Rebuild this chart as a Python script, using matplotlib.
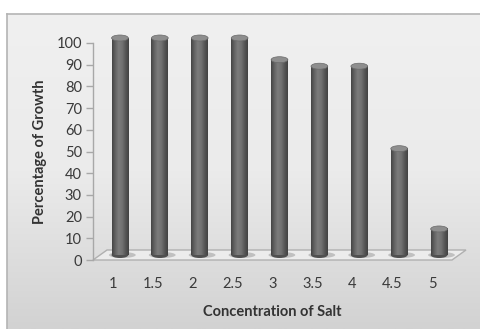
import numpy as np
import matplotlib
matplotlib.use("Agg")
import matplotlib.pyplot as plt
from matplotlib.patches import Ellipse, Polygon
from matplotlib.transforms import ScaledTranslation

# Growth (%) at each salt concentration
concentrations = ["1", "1.5", "2", "2.5", "3", "3.5", "4", "4.5", "5"]
growth = [100, 100, 100, 100, 90, 87, 87, 49, 12]
y_ticks = [0, 10, 20, 30, 40, 50, 60, 70, 80, 90, 100]

W, H, DPI = 480, 329, 100
fig = plt.figure(figsize=(W / DPI, H / DPI), dpi=DPI)
fig.patch.set_facecolor("white")

# chart area with a soft vertical gradient and a thin border
bg = fig.add_axes([7 / W, 0, 1 - 7 / W, (H - 14) / H])
grad = np.linspace(0, 1, 256).reshape(-1, 1)
bg.imshow(grad, cmap=matplotlib.colors.LinearSegmentedColormap.from_list(
    "bg", ["#f0f0f0", "#ebebeb", "#d2d2d2"]), aspect="auto",
    extent=[0, 1, 0, 1], origin="upper")
bg.set_xlim(0, 1)
bg.set_ylim(0, 1)
bg.set_xticks([])
bg.set_yticks([])
for s in ["right", "bottom"]:
    bg.spines[s].set_visible(False)
for s in ["left", "top"]:
    bg.spines[s].set_color("#b4b4b4")
    bg.spines[s].set_linewidth(1.2)

# plot area (front plane)
left, right, bottom, top = 93, 452, 260, 43
ax = fig.add_axes([left / W, (H - bottom) / H, (right - left) / W, (bottom - top) / H])
ax.patch.set_visible(False)
n = len(concentrations)
ax.set_xlim(-0.5, n - 0.5)
ax.set_ylim(0, 100)

font = "Lato"
ax.set_yticks(y_ticks)
ax.set_yticklabels([str(t) for t in y_ticks], fontsize=10.5, color="#3a3a3a", family=font)
ax.tick_params(axis="y", length=5, width=1, color="#a8a8a8", pad=3)
ax.set_xticks(range(n))
ax.set_xticklabels(concentrations, fontsize=10.5, color="#3a3a3a", family=font)
ax.tick_params(axis="x", length=0, pad=12)
for s in ["top", "right", "bottom"]:
    ax.spines[s].set_visible(False)
ax.spines["left"].set_color("#a8a8a8")
ax.spines["left"].set_linewidth(1)

ax.set_ylabel("Percentage of Growth", fontsize=10.5, fontweight="bold",
              color="#333333", family=font, labelpad=7)
ax.set_xlabel("Concentration of Salt", fontsize=10.5, fontweight="bold",
              color="#333333", family=font, labelpad=10)

# depth offset (pixels) for the bar plane
depth_mid = ScaledTranslation(7 / DPI, 5 / DPI, fig.dpi_scale_trans)

# floor
px_per_unit = (bottom - top) / 100.0
fx0, fx1 = -0.5, n - 0.5
dy_back = 10 / px_per_unit
dx_back = 14 / ((right - left) / n)
floor = Polygon([(fx0, 0), (fx1, 0), (fx1 + dx_back, dy_back), (fx0 + dx_back, dy_back)],
                closed=True, facecolor="#ececec", edgecolor="#b0b0b0",
                linewidth=1, transform=ax.transData, clip_on=False, zorder=1)
ax.add_patch(floor)

# cylinders
bar_w = 0.42
cap_h = 6 / px_per_unit
tr = ax.transData + depth_mid
body_cmap = matplotlib.colors.LinearSegmentedColormap.from_list(
    "body", ["#454545", "#646464", "#7c7c7c", "#727272", "#575757", "#424242"])
xg = np.linspace(0, 1, 64).reshape(1, -1)
for i, v in enumerate(growth):
    # shadow on the floor
    ax.add_patch(Ellipse((i + 0.06, 0), bar_w * 1.6, cap_h * 1.0, transform=tr,
                         facecolor="#8c8c8c", edgecolor="none", alpha=0.45,
                         clip_on=False, zorder=2))
    # rounded base
    ax.add_patch(Ellipse((i, 0), bar_w, cap_h, transform=tr,
                         facecolor="#505050", edgecolor="none",
                         clip_on=False, zorder=3))
    im = ax.imshow(xg, cmap=body_cmap, aspect="auto",
                   extent=[i - bar_w / 2, i + bar_w / 2, 0, v],
                   transform=tr, zorder=4, interpolation="bilinear")
    im.set_clip_on(False)
    # top cap
    ax.add_patch(Ellipse((i, v), bar_w, cap_h, transform=tr,
                         facecolor="#8e8e8e", edgecolor="#6a6a6a", linewidth=0.5,
                         clip_on=False, zorder=5))

ax.set_xlim(-0.5, n - 0.5)
ax.set_ylim(0, 100)

fig.savefig("out.png", dpi=DPI)
